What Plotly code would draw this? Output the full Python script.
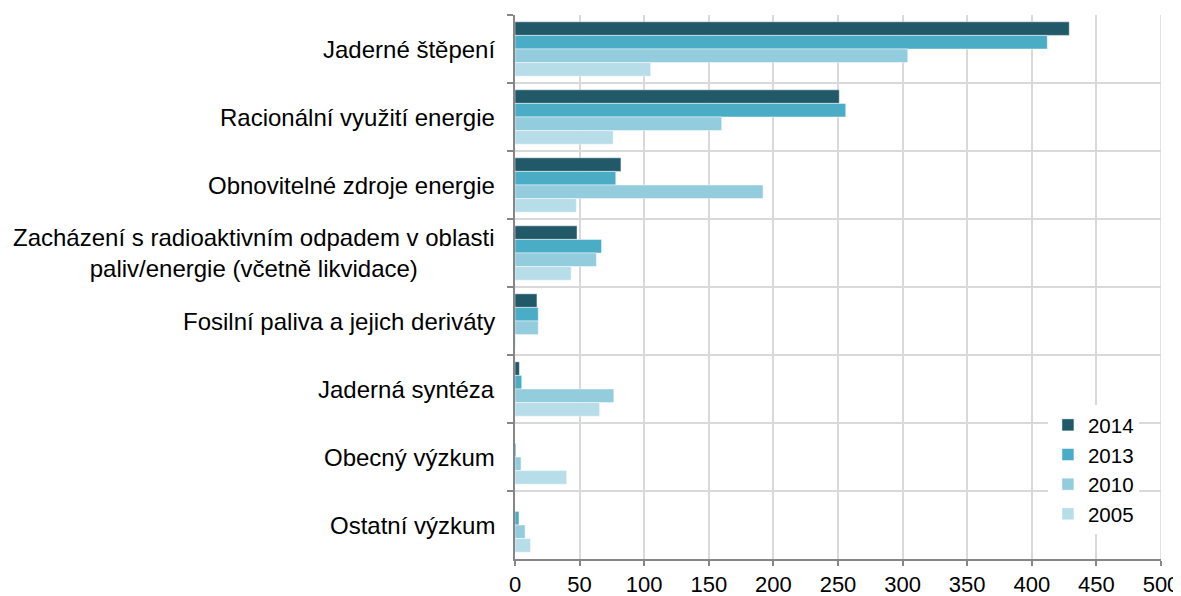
import plotly.graph_objects as go

categories = [
    "Jaderné štěpení",
    "Racionální využití energie",
    "Obnovitelné zdroje energie",
    "Zacházení s radioaktivním odpadem v oblasti<br>paliv/energie (včetně likvidace)",
    "Fosilní paliva a jejich deriváty",
    "Jaderná syntéza",
    "Obecný výzkum",
    "Ostatní výzkum",
]
years = ["2014", "2013", "2010", "2005"]
v2014 = [429, 251, 82, 48, 17, 3.4, 0, 0]
v2013 = [412, 256, 78, 67, 18, 5.2, 0.8, 3.1]
v2010 = [304, 160, 192, 63, 18, 76.5, 4.7, 7.8]
v2005 = [105, 76, 47.5, 43.5, 0.5, 65.5, 40, 12]
colors = ["#215968", "#4BACC6", "#93CDDD", "#B7DEE8"]
xticks = [0, 50, 100, 150, 200, 250, 300, 350, 400, 450, 500]

FONT = "Liberation Sans, Arial, sans-serif"

fig = go.Figure()
for name, vals, col in zip(years, [v2014, v2013, v2010, v2005], colors):
    fig.add_trace(go.Bar(
        y=categories, x=vals, name=name, orientation="h",
        marker=dict(color=col, line=dict(color="rgba(255,255,255,0.6)", width=0.8)),
    ))

for c in categories:
    fig.add_annotation(
        x=0, xref="paper", y=c, yref="y", text=c, showarrow=False,
        xanchor="right", xshift=-18, align="center",
        font=dict(family=FONT, size=24, color="#000000"),
    )

# gridline at the right edge of the plot (x = 500)
fig.add_shape(type="line", xref="x", yref="paper", x0=xticks[-1], x1=xticks[-1],
              y0=0, y1=1, line=dict(color="#D9D9D9", width=1.5), layer="below")

fig.update_layout(
    width=1173, height=588,
    margin=dict(l=507, r=20, t=7, b=37, autoexpand=False),
    paper_bgcolor="white", plot_bgcolor="white",
    barmode="group", bargap=0.2, bargroupgap=0,
    font=dict(family=FONT, size=24, color="#000000"),
    legend=dict(
        x=0.825, y=0.283, xanchor="left", yanchor="top",
        bgcolor="white", font=dict(family=FONT, size=20.5, color="#000000"),
        itemwidth=30, tracegroupgap=0,
    ),
    xaxis=dict(
        range=[0, 500], tickvals=xticks, ticktext=[str(t) for t in xticks],
        showgrid=True, gridcolor="#D9D9D9", gridwidth=1.5,
        showline=True, linecolor="#868686", linewidth=1.5,
        ticks="outside", ticklen=5, tickcolor="#868686", tickwidth=1.5,
        zeroline=False, tickfont=dict(size=22), automargin=False,
        ticklabeloverflow="allow",
    ),
    yaxis=dict(
        categoryorder="array", categoryarray=categories,
        autorange="reversed", showticklabels=False, automargin=False,
        tickson="boundaries", showgrid=True, gridcolor="#D9D9D9", gridwidth=1.5,
        showline=True, linecolor="#868686", linewidth=1.5,
        ticks="outside", ticklen=6, tickcolor="#868686", tickwidth=1.5,
    ),
)

fig.write_html("out.html")
